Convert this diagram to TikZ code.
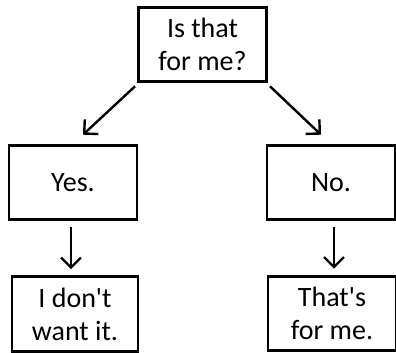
\documentclass[tikz,border=0pt]{standalone}
\usepackage{fontspec}
\setmainfont{Carlito}
\usepackage{tikz}
\usetikzlibrary{arrows.meta, calc, positioning}
\tikzset{>={Straight Barb[length=7.5pt, width=15pt]}}
\tikzset{box/.style={draw, line width=2.2pt, minimum width=96pt, minimum height=56pt, align=center, inner sep=0pt,
                     font={\fontsize{21pt}{24.75pt}\selectfont}}}
\tikzset{arr/.style={->, line width=1.8pt}}
\begin{document}
\begin{tikzpicture}[x=0.75pt, y=-0.75pt]
                    \useasboundingbox (0,0) rectangle (396,353);

                    \node[box] (ask) at (202.5, 44.5) {Is that\\for me?};

                    \node[box] (yes) at (73, 182.5) {Yes.};
                    \node[box] (no) at (331, 182.5) {No.};

                    \node[box, minimum width=94.5pt] (dont) at (75, 314) {I don\textquotesingle t\\want it.};
                    \node[box] (mine) at (332, 313.5) {That\textquotesingle s\\for me.};

                    % from the question down to the answers
                    \draw[arr] ($(ask.south west)+(-2,3)$) -- ($(yes.north)+(10,-9)$);
                    \draw[arr] ($(ask.south east)+(2,3)$) -- ($(no.north)+(-10,-9)$);

                    \draw[arr] ($(yes.south)+(-2,6)$) -- ($(dont.north)+(-4,-6)$);
                    \draw[arr] ($(no.south)+(3,6)$) -- ($(mine.north)+(2,-6)$);
            \end{tikzpicture}
\end{document}
